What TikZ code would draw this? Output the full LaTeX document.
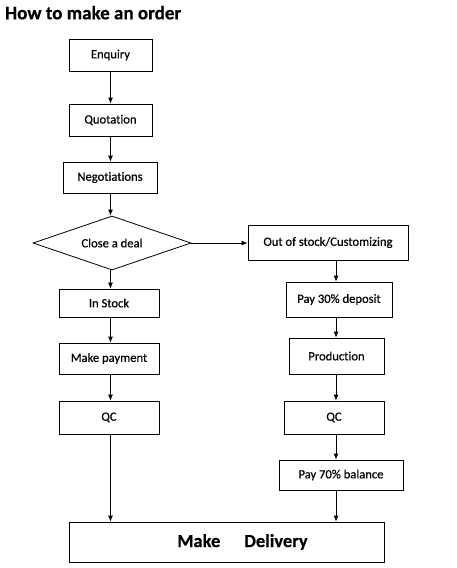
\documentclass[tikz,border=0pt]{standalone}
\usepackage{fontspec}
\setmainfont[Ligatures={NoCommon},FakeBold=0.5]{Carlito}
\usepackage{tikz}
\usetikzlibrary{shapes.geometric}
\usetikzlibrary{arrows.meta}
\tikzset{
  Box/.style={draw,rectangle,line width=.8pt,inner sep=0pt,font=\fontsize{12.6}{14}\selectfont}, % Kaesten
  Deal/.style={Box,diamond,aspect=3}, % Entscheidung
  Arrow/.style={line width=.8pt,->} % Pfeile
}

\begin{document}
\begin{tikzpicture}[x=1pt,y=-1pt,
>={Latex[length=6pt,width=5pt]} % Pfeilspitzen
]
\useasboundingbox (0,0) rectangle (456,568);

%Titel
\node[anchor=base west,inner sep=0pt,font=\fontsize{19}{22}\selectfont\bfseries] (Title) at (5,19.3) {How to make an order};

%Spalten fuer die Pfeile
\coordinate (L) at (110.5,0);
\coordinate (R) at (336,0);

%Kaesten links
\node[Box,minimum width=83pt,minimum height=32pt] (Enq) at (110.5,55) {Enquiry};
\node[Box,minimum width=83pt,minimum height=32pt] (Quot) at (110.5,120) {Quotation};
\node[Box,minimum width=94pt,minimum height=31pt] (Neg) at (110,177.5) {Negotiations};
\node[Deal,minimum width=158pt,minimum height=54pt] (Close) at (112,243) {Close a deal};
\node[Box,minimum width=100pt,minimum height=28pt] (Stock) at (109,303) {In Stock};
\node[Box,minimum width=100pt,minimum height=31pt] (Pay) at (109,358.5) {Make payment};
\node[Box,minimum width=100pt,minimum height=33pt] (QCL) at (109,417.5) {QC};

%Kaesten rechts
\node[Box,minimum width=160pt,minimum height=35pt] (Out) at (328,242.5) {Out of stock/Customizing};
\node[Box,minimum width=106pt,minimum height=35pt] (Dep) at (339,299.5) {Pay 30\% deposit};
\node[Box,minimum width=95pt,minimum height=36pt] (Prod) at (336.5,356) {Production};
\node[Box,minimum width=100pt,minimum height=33pt] (QCR) at (334,417.5) {QC};
\node[Box,minimum width=124pt,minimum height=30pt] (Bal) at (341,475) {Pay 70\% balance};

%Auslieferung
\node[Box,minimum width=315pt,minimum height=40pt,font=\fontsize{18.5}{21}\selectfont\bfseries] (Deliv) at (226.5,542) {\hspace*{32pt}Make\hspace{24pt}Delivery};

%Pfeile links
\draw[Arrow] (Enq.south -| L) -- (Quot.north -| L);
\draw[Arrow] (Quot.south -| L) -- (Neg.north -| L);
\draw[Arrow] (Neg.south -| L) -- (Close.north -| L);
\draw[Arrow] (Close.south -| L) -- (Stock.north -| L);
\draw[Arrow] (Stock.south -| L) -- (Pay.north -| L);
\draw[Arrow] (Pay.south -| L) -- (QCL.north -| L);
\draw[Arrow] (QCL.south -| L) -- (Deliv.north -| L);

%Pfeile rechts
\draw[Arrow] (Close.east) -- (Close.east -| Out.west);
\draw[Arrow] (Out.south -| R) -- (Dep.north -| R);
\draw[Arrow] (Dep.south -| R) -- (Prod.north -| R);
\draw[Arrow] (Prod.south -| R) -- (QCR.north -| R);
\draw[Arrow] (QCR.south -| R) -- (Bal.north -| R);
\draw[Arrow] (Bal.south -| R) -- (Deliv.north -| R);

\end{tikzpicture}
\end{document}
